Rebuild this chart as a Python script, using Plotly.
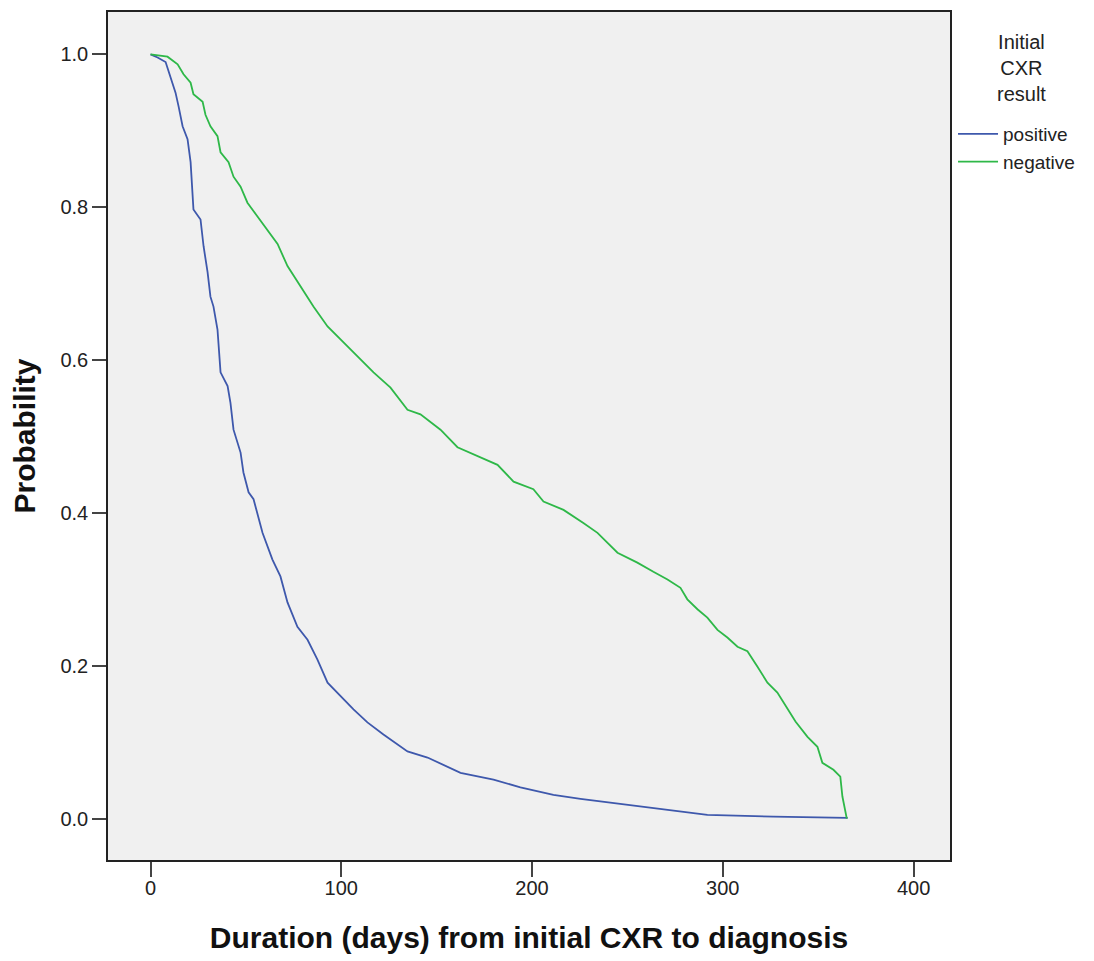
import plotly.graph_objects as go

# Kaplan-Meier style curves
pos_days = [0, 3.7, 7.9, 10.5, 13.1, 14.7, 16.8, 19.4, 21.0, 22.5, 26.2, 27.8, 29.9, 31.4, 33.0,
            35.1, 36.7, 40.4, 41.9, 43.5, 45.6, 47.2, 48.7, 51.4, 54.0, 58.7, 63.9, 68.1, 71.8,
            77.0, 82.3, 87.5, 92.8, 99.6, 106.4, 113.7, 122.1, 134.7, 145.2, 162.5, 179.8, 193.9,
            211.2, 225.4, 256.8, 291.9, 326.5, 365.0, 365.0]
pos_prob = [1.0, 0.996, 0.99, 0.97, 0.95, 0.932, 0.906, 0.889, 0.859, 0.797, 0.784, 0.749, 0.715,
            0.683, 0.670, 0.640, 0.584, 0.566, 0.544, 0.509, 0.492, 0.479, 0.453, 0.427, 0.418,
            0.374, 0.339, 0.317, 0.283, 0.251, 0.234, 0.208, 0.178, 0.160, 0.143, 0.126, 0.110,
            0.088, 0.080, 0.060, 0.051, 0.041, 0.031, 0.026, 0.016, 0.005, 0.0026, 0.001, 0.0]

neg_days = [0, 8.9, 14.2, 17.3, 21.0, 22.5, 27.3, 28.8, 31.4, 35.1, 36.7, 40.9, 43.5, 47.2, 50.8,
            56.1, 61.3, 66.6, 71.8, 78.6, 85.4, 92.8, 101.2, 110.0, 116.9, 125.8, 134.7, 141.5,
            152.0, 160.9, 171.4, 181.9, 190.3, 200.7, 206.0, 216.5, 226.9, 234.3, 244.8, 255.2,
            263.6, 271.0, 277.8, 281.4, 286.7, 291.9, 297.2, 302.4, 307.7, 312.9, 318.1, 323.4,
            328.6, 333.9, 338.1, 344.4, 349.6, 352.2, 358.0, 361.6, 362.7, 365.0]
neg_prob = [1.0, 0.997, 0.987, 0.974, 0.963, 0.948, 0.938, 0.921, 0.906, 0.893, 0.872, 0.859, 0.840,
            0.827, 0.806, 0.788, 0.771, 0.752, 0.723, 0.696, 0.670, 0.644, 0.623, 0.601, 0.584,
            0.564, 0.535, 0.529, 0.509, 0.486, 0.474, 0.463, 0.441, 0.431, 0.415, 0.404, 0.387,
            0.374, 0.348, 0.335, 0.323, 0.313, 0.302, 0.287, 0.274, 0.263, 0.247, 0.237, 0.225,
            0.219, 0.199, 0.178, 0.165, 0.143, 0.127, 0.107, 0.094, 0.073, 0.064, 0.055, 0.029, 0.0]

x_ticks = [0, 100, 200, 300, 400]
y_ticks = [0.0, 0.2, 0.4, 0.6, 0.8, 1.0]
legend_title = "Initial<br>CXR<br>result"

FONT = "Liberation Sans, Arial, sans-serif"

fig = go.Figure()
fig.add_trace(go.Scatter(x=pos_days, y=pos_prob, mode="lines", name="positive",
                         line=dict(color="#3E58AC", width=1.8)))
fig.add_trace(go.Scatter(x=neg_days, y=neg_prob, mode="lines", name="negative",
                         line=dict(color="#2EB848", width=1.8)))

fig.add_annotation(text=legend_title, xref="paper", yref="paper",
                   x=1.0855, y=0.9795, xanchor="center", yanchor="top",
                   align="center", showarrow=False,
                   font=dict(size=20, family=FONT, color="#222222"))

fig.update_layout(
    width=1086, height=953,
    margin=dict(l=100, r=144, t=2, b=100.5),
    paper_bgcolor="white",
    plot_bgcolor="#F0F0F0",
    font=dict(family=FONT, color="#222222"),
    legend=dict(
        font=dict(size=19, family=FONT, color="#222222"),
        x=1.0036, xanchor="left", y=0.8785, yanchor="top",
        bgcolor="rgba(0,0,0,0)", borderwidth=0,
        itemwidth=40, tracegroupgap=0,
    ),
    xaxis=dict(
        range=[-22.3, 419.1], tickvals=x_ticks, ticktext=[str(v) for v in x_ticks],
        showgrid=False, zeroline=False,
        showline=True, linecolor="#222222", linewidth=1.5, mirror=True,
        ticks="outside", ticklen=15, tickwidth=2, tickcolor="#444444",
        ticklabelstandoff=-6,
        tickfont=dict(size=20, family=FONT, color="#222222"),
        title=dict(text="<b>Duration (days) from initial CXR to diagnosis</b>",
                   font=dict(size=30, family=FONT, color="#111111"), standoff=29),
    ),
    yaxis=dict(
        range=[-0.0541, 1.0555], tickvals=y_ticks, ticktext=[f"{v:.1f}" for v in y_ticks],
        showgrid=False, zeroline=False,
        showline=True, linecolor="#222222", linewidth=1.5, mirror=True,
        ticks="outside", ticklen=14, tickwidth=2, tickcolor="#444444",
        tickfont=dict(size=20, family=FONT, color="#222222"),
        title=dict(text="<b>Probability</b>",
                   font=dict(size=30, family=FONT, color="#111111"), standoff=16),
    ),
)

fig.write_html("out.html")
